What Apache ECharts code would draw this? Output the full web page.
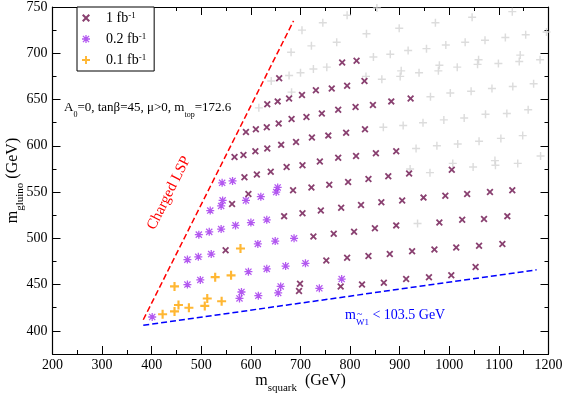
<!DOCTYPE html>
<html>
<head>
<meta charset="utf-8">
<script src="https://cdn.jsdelivr.net/npm/echarts@6/dist/echarts.min.js"></script>
<style>
  html, body { margin: 0; padding: 0; background: #fff; }
  #chart { width: 565px; height: 397px; }
</style>
</head>
<body>
<div id="chart"></div>
<script>
// points reached with 1 fb^-1 (m_squark, m_gluino)
var reach1fb = [
  [697, 443], [699, 451], [781, 448], [824, 450], [868, 452], [913, 456], [959, 458], [1004, 460], [1053, 469],
  [752, 476], [794, 479], [837, 481], [880, 483], [925, 486], [970, 488], [1014, 490], [1060, 492], [1107, 494],
  [549, 487], [726, 502], [767, 505], [808, 507], [850, 511], [893, 514], [980, 517], [1026, 520], [1070, 521], [1117, 524],
  [667, 524], [704, 527], [741, 530], [782, 533], [822, 536], [863, 539], [905, 541], [948, 544], [992, 546], [1036, 548], [1082, 550], [1127, 552],
  [562, 537], [595, 548],
  [685, 552], [722, 555], [758, 558], [796, 561], [837, 564], [877, 567], [919, 570], [1005, 574],
  [587, 566], [612, 569], [640, 572], [672, 577], [704, 579], [739, 583], [776, 587], [812, 589], [852, 592], [893, 594],
  [567, 588], [585, 590], [609, 594], [633, 597], [661, 601], [691, 604], [723, 609], [756, 611], [792, 614], [830, 618],
  [590, 615], [610, 618], [632, 620], [656, 624], [682, 629], [712, 631], [743, 635], [776, 639], [811, 642], [846, 644], [883, 648], [922, 651],
  [633, 645], [654, 648], [677, 651], [703, 655], [731, 660], [763, 662], [794, 665], [829, 670],
  [657, 673], [784, 690], [813, 692]
];

// points reached with 0.2 fb^-1
var reach02fb = [
  [401, 415], [577, 435], [581, 442], [615, 438], [655, 441], [660, 448], [738, 446], [783, 456],
  [472, 450], [498, 455], [595, 464], [632, 467], [670, 470], [710, 473],
  [472, 477], [494, 480], [520, 483], [614, 494], [649, 497], [687, 500],
  [495, 504], [516, 507], [540, 510], [569, 514], [600, 517], [632, 520],
  [518, 530], [540, 535], [543, 541], [590, 541], [620, 545], [651, 550], [654, 555],
  [542, 560], [563, 562]
];

// points reached with 0.1 fb^-1
var reach01fb = [
  [422, 418], [446, 421], [454, 428], [475, 425], [507, 427], [512, 435], [541, 432],
  [446, 448], [528, 458], [560, 460], [579, 489]
];

// scanned points not reached
var notReached = [
  [794, 741], [854, 749], [745, 733], [703, 725], [833, 721], [899, 727], [972, 733], [1046, 739], [1127, 745],
  [773, 712], [722, 708], [681, 701],
  [847, 696], [881, 699], [917, 703], [954, 705], [993, 709], [1032, 712], [1072, 714], [1113, 717], [1154, 720], [1196, 723],
  [753, 685], [726, 683], [700, 679], [677, 676], [641, 670],
  [832, 675], [864, 672], [903, 681], [901, 675], [939, 679], [980, 687], [978, 681], [1016, 685], [1059, 693], [1057, 688],
  [1099, 689], [1143, 698], [1141, 691], [1183, 693],
  [682, 658], [962, 653], [1002, 657], [1044, 659], [1086, 662], [1128, 664], [1170, 667],
  [616, 641],
  [867, 620], [907, 622], [947, 625], [989, 628], [1030, 630], [1073, 634], [1116, 635], [1159, 639],
  [933, 597], [975, 600], [1017, 602], [1060, 605], [1104, 608], [1148, 611], [1184, 589],
  [921, 575], [961, 571], [1007, 581], [1048, 577], [1092, 584], [1093, 579], [1138, 581],
  [936, 516]
];

// boundary lines
var chargedLSP = [[383, 412], [686, 735]];
var charginoLimit = [[383, 406], [1176, 466]];

var yMajor = [400, 450, 500, 550, 600, 650, 700, 750];
var legendNames = ['1 fb', '0.2 fb', '0.1 fb'];

var serif = 'Liberation Serif';

var crossPath = 'path://M0,1.8L1.8,0L5,3.2L8.2,0L10,1.8L6.8,5L10,8.2L8.2,10L5,6.8L1.8,10L0,8.2L3.2,5Z';
var starPath = 'path://M4.2,0H5.8V4.2H10V5.8H5.8V10H4.2V5.8H0V4.2H4.2Z' +
  'M0.6,1.7L1.7,0.6L5,3.9L8.3,0.6L9.4,1.7L6.1,5L9.4,8.3L8.3,9.4L5,6.1L1.7,9.4L0.6,8.3L3.9,5Z';
var plusPath = 'path://M3.8,0H6.2V3.8H10V6.2H6.2V10H3.8V6.2H0V3.8H3.8Z';
var plusThin = 'path://M4.1,0H5.9V4.1H10V5.9H5.9V10H4.1V5.9H0V4.1H4.1Z';

function subRich(size, sub) {
  return {
    n: { fontFamily: serif, fontSize: size, lineHeight: size + 5, verticalAlign: 'top' },
    s: { fontFamily: serif, fontSize: sub, lineHeight: sub + 1, verticalAlign: 'bottom' }
  };
}

var axisBase = {
  type: 'value',
  axisLine: { show: true, onZero: false, lineStyle: { color: '#000', width: 1.2 } },
  splitLine: { show: false },
  axisPointer: { show: false }
};

function xAx(pos, labels) {
  return Object.assign({}, axisBase, {
    position: pos,
    min: 200, max: 1200, interval: 100,
    axisTick: { inside: true, length: 8, lineStyle: { color: '#000', width: 1 } },
    minorTick: { show: true, splitNumber: 2, length: 4, lineStyle: { color: '#000', width: 1 } },
    axisLabel: {
      show: labels, color: '#000', fontFamily: serif, fontSize: 14, margin: 4,
      formatter: function (v) { return String(v); }
    }
  });
}

function yMinor(pos, labels) {
  return Object.assign({}, axisBase, {
    position: pos,
    min: 375, max: 750, interval: 25,
    axisTick: { inside: true, length: 4, lineStyle: { color: '#000', width: 1 } },
    axisLabel: {
      show: labels, color: '#000', fontFamily: serif, fontSize: 14, margin: 5,
      formatter: function (v) { return v % 50 === 0 ? String(v) : ''; }
    }
  });
}

function yMajorAx(pos) {
  return Object.assign({}, axisBase, {
    position: pos,
    min: 375, max: 750,
    axisLine: { show: false },
    axisTick: { inside: true, length: 8, customValues: yMajor, lineStyle: { color: '#000', width: 1 } },
    axisLabel: { show: false }
  });
}

var xBottom = xAx('bottom', true);
xBottom.name = '{n|m}{s|squark}{n|  (GeV)}';
xBottom.nameLocation = 'middle';
xBottom.nameGap = 19;
xBottom.nameMoveOverlap = false;
xBottom.nameTextStyle = { color: '#000', fontFamily: serif, fontSize: 16, rich: subRich(16, 11) };

var yLeft = yMinor('left', true);
yLeft.name = '{n|m}{s|gluino}{n| (GeV)}';
yLeft.nameLocation = 'middle';
yLeft.nameGap = 27;
yLeft.nameMoveOverlap = false;
yLeft.nameTextStyle = { color: '#000', fontFamily: serif, fontSize: 16, rich: subRich(16, 11) };

var option = {
  animation: false,
  backgroundColor: '#fff',
  grid: { left: 52.5, right: 16.5, top: 7, bottom: 43, containLabel: false, outerBoundsMode: 'none' },
  xAxis: [xBottom, xAx('top', false)],
  yAxis: [yLeft, yMajorAx('left'), yMinor('right', false), yMajorAx('right')],
  legend: {
    data: legendNames,
    orient: 'vertical',
    left: 77, top: 7,
    padding: [4, 8, 4, 5],
    itemGap: 7,
    itemWidth: 20, itemHeight: 8,
    backgroundColor: '#fff',
    borderColor: '#000', borderWidth: 1, borderRadius: 0,
    selectedMode: false,
    formatter: function (name) { return '{n|' + name + '}{p|-1}'; },
    textStyle: {
      color: '#000', fontFamily: serif, fontSize: 14, padding: [0, 0, 0, 5],
      rich: {
        n: { fontFamily: serif, fontSize: 14, lineHeight: 14, verticalAlign: 'bottom' },
        p: { fontFamily: serif, fontSize: 9, lineHeight: 9, verticalAlign: 'top' }
      }
    }
  },
  series: [
    {
      name: 'not reached', type: 'scatter', data: notReached,
      symbol: plusThin, symbolSize: 8, itemStyle: { color: '#d3d3d3' }, silent: true, z: 1
    },
    {
      name: '0.1 fb', type: 'scatter', data: reach01fb,
      symbol: plusPath, symbolSize: 9, itemStyle: { color: '#ffa500' }, z: 3
    },
    {
      name: '0.2 fb', type: 'scatter', data: reach02fb,
      symbol: starPath, symbolSize: 8, itemStyle: { color: '#a030ec' }, z: 3
    },
    {
      name: '1 fb', type: 'scatter', data: reach1fb,
      symbol: crossPath, symbolSize: 7, itemStyle: { color: '#6b104c' }, z: 4
    },
    {
      name: 'charged LSP', type: 'line', data: chargedLSP, symbol: 'none',
      lineStyle: { color: '#ff0000', width: 1.5, type: [6, 3] }, silent: true, z: 2
    },
    {
      name: 'chargino limit', type: 'line', data: charginoLimit, symbol: 'none',
      lineStyle: { color: '#0000ff', width: 1.5, type: [6, 3] }, silent: true, z: 2
    }
  ],
  graphic: [
    {
      type: 'text', left: 64, top: 101, z: 10,
      style: {
        text: '{n|A}{s|0}{n|=0, tanβ=45, μ>0, m}{s|top}{n|=172.6}',
        fill: '#000', font: '13px "Liberation Serif"',
        rich: subRich(13, 8)
      }
    },
    {
      type: 'text', x: 169, y: 193, rotation: 63.4 * Math.PI / 180, z: 10,
      style: {
        text: 'Charged LSP', fill: '#ff0000', font: '15px "Liberation Serif"',
        align: 'center', verticalAlign: 'middle'
      }
    },
    {
      type: 'text', left: 345, top: 308, z: 10,
      style: {
        text: '{n|m}{s|W1}{n| < 103.5 GeV}',
        fill: '#0000ff', font: '14px "Liberation Serif"',
        rich: subRich(14, 9)
      }
    },
    {
      // tilde over the W
      type: 'text', left: 357, top: 309, z: 11,
      style: { text: '~', fill: '#0000ff', font: '10px "Liberation Serif"' }
    }
  ]
};

var chart = echarts.init(document.getElementById('chart'));
chart.setOption(option);
</script>
</body>
</html>
